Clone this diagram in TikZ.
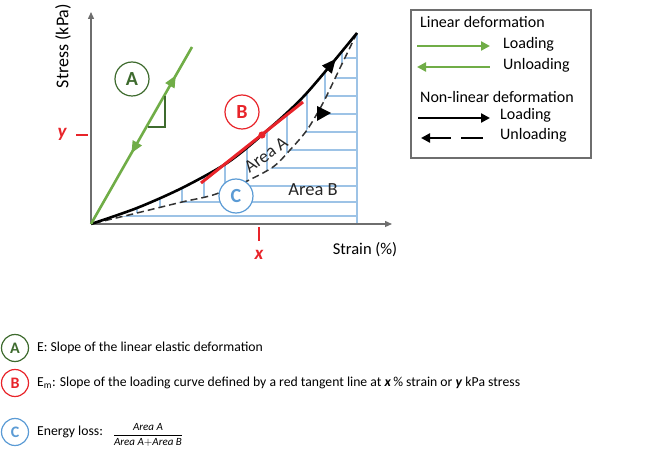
\documentclass[tikz,border=0pt]{standalone}
\usepackage{fontspec}
\setmainfont{Carlito}
\usetikzlibrary{arrows.meta,decorations.markings}
\definecolor{lgreen}{HTML}{70AD47}
\definecolor{dgreen}{HTML}{3E6B2E}
\definecolor{myred}{HTML}{E8242A}
\definecolor{myblue}{HTML}{5B9BD5}
\definecolor{hatchc}{HTML}{9DC3E6}
\definecolor{axisgray}{HTML}{6E6E6E}
\tikzset{
  hatchline/.style={hatchc, line width=1.1},
  axisline/.style={axisgray, line width=1.3, -{Triangle[length=7pt,width=6pt]}},
  bigcirc/.style={circle, draw, line width=1.2, fill=white, minimum size=34pt, inner sep=0pt, font=\fontsize{20}{24}\selectfont\bfseries},
  smallcirc/.style={circle, draw, line width=1.2, fill=white, minimum size=27pt, inner sep=0pt, font=\fontsize{16}{19}\selectfont\bfseries},
  legtext/.style={anchor=west, inner sep=0pt, font=\fontsize{16}{19}\selectfont},
  bottext/.style={anchor=west, inner sep=0pt, font=\fontsize{13.7}{16}\selectfont},
  legarrow/.style={line width=2.6, -{Triangle[length=9pt,width=9pt]}},
  legarrowrev/.style={line width=2.6, {Triangle[length=9pt,width=9pt]}-},
}
\begin{document}
\begin{tikzpicture}[x=1pt,y=-1pt]
\useasboundingbox (0,0) rectangle (649,457);

% hatching: horizontal lines right of unloading curve
\begin{scope}
\clip plot[smooth] coordinates {(91,224) (137,213) (182,202) (213,195) (245,182) (273,167) (290,150) (307,130) (323,103) (340,68) (357,33)} -- (357,224) -- cycle;
\foreach \yy in {58,78,96,114,132,150,168,186,202,216} \draw[hatchline] (91,\yy) -- (357,\yy);
\end{scope}
\draw[hatchline] (357,33) -- (357,224);
% hatching: vertical lines between curves
\begin{scope}
\clip plot[smooth] coordinates {(91,224) (137,208) (182,188) (227,163) (262,135) (305,95) (357,33)} -- plot[smooth] coordinates {(357,33) (340,68) (323,103) (307,130) (290,150) (273,167) (245,182) (213,195) (182,202) (137,213) (91,224)} -- cycle;
\foreach \xx in {137,160,182,204,225,247,267,287,307,325,342} \draw[hatchline] (\xx,20) -- (\xx,230);
\end{scope}

% axes
\coordinate (O) at (91,224);
\coordinate (ytop) at (91,12);
\coordinate (xend) at (392,224);
\draw[axisline] (O) -- (ytop);
\draw[axisline] (O) -- (xend);
\node[rotate=90, font=\fontsize{18}{21}\selectfont, inner sep=0pt] (ylab) at (63,46) {Stress (kPa)};
\node[font=\fontsize{16.5}{19}\selectfont, inner sep=0pt] (xlab) at (365,250) {Strain (\%)};

% unloading (dashed) curve
\draw[black!80, line width=1.5, dash pattern=on 7pt off 4pt] plot[smooth] coordinates {(357,33) (340,68) (323,103) (307,130) (290,150) (273,167) (245,182) (213,195) (182,202) (137,213) (91,224)};
\fill[black] (317,106) -- (317,121) -- (331,113) -- cycle;

% loading curve
\draw[black, line width=2.6, postaction={decorate}, decoration={markings, mark=at position 0.9 with {\arrow{Triangle[length=14pt,width=12pt]}}}] plot[smooth] coordinates {(91,224) (137,208) (182,188) (227,163) (262,135) (305,95) (357,33)};

% linear (green) line
\coordinate (gtop) at (192,47);
\draw[lgreen, line width=2.6, postaction={decorate}, decoration={markings,
  mark=at position 0.84 with {\arrow{Triangle[length=12pt,width=10pt]}},
  mark=at position 0.40 with {\arrowreversed{Triangle[length=12pt,width=10pt]}}}] (O) -- (gtop);
\draw[dgreen, line width=1.8] (165,96) -- (165,127) -- (148,127);

% tangent
\coordinate (t1) at (201,183);
\coordinate (t2) at (303,102);
\draw[myred, line width=3] (t1) -- (t2);
\fill[myred] (262,135) circle (3.6);

% ticks
\coordinate (yt1) at (76,135); \coordinate (yt2) at (88,135);
\coordinate (xt1) at (259,227); \coordinate (xt2) at (259,241);
\draw[myred, line width=2.8] (yt1) -- (yt2);
\draw[myred, line width=2.8] (xt1) -- (xt2);
\node[myred, font=\fontsize{19}{22}\selectfont\bfseries\itshape, inner sep=0pt] (ylet) at (62,134) {y};
\node[myred, font=\fontsize{19}{22}\selectfont\bfseries\itshape, inner sep=0pt] (xlet) at (259,255) {x};

% circles and area labels
\node[bigcirc, draw=dgreen, text=dgreen] (cA) at (132,79) {A};
\node[bigcirc, draw=myred, text=myred] (cB) at (242,112) {B};
\node[bigcirc, draw=myblue, text=myblue] (cC) at (236,196) {C};
\node[rotate=36, font=\fontsize{18}{21}\selectfont, text=black!85, inner sep=0pt] (areaA) at (266,155) {Area A};
\node[font=\fontsize{18.5}{21}\selectfont, text=black!85, inner sep=0pt] (areaB) at (313,190) {Area B};

% legend
\draw[axisgray, line width=1.2] (411,10) rectangle (591,158);
\node[legtext] (l1) at (420,22) {Linear deformation};
\coordinate (ga1) at (417,46); \coordinate (ga2) at (490,46);
\coordinate (gb1) at (417,67); \coordinate (gb2) at (490,67);
\draw[legarrow, lgreen] (ga1) -- (ga2);
\draw[legarrowrev, lgreen] (gb1) -- (gb2);
\node[legtext] (l2) at (503,44) {Loading};
\node[legtext] (l3) at (503,65) {Unloading};
\node[legtext] (l4) at (420,97) {Non-linear deformation};
\coordinate (ba1) at (418,118); \coordinate (ba2) at (490,118);
\draw[legarrow, black] (ba1) -- (ba2);
\coordinate (da1) at (421,138); \coordinate (da2) at (451,138);
\coordinate (da3) at (461,138); \coordinate (da4) at (483,138);
\draw[legarrowrev, black] (da1) -- (da2);
\draw[black, line width=2.6] (da3) -- (da4);
\node[legtext] (l5) at (500,115) {Loading};
\node[legtext] (l6) at (500,135) {Unloading};

% bottom explanation
\node[smallcirc, draw=dgreen, text=dgreen] (bA) at (15,348) {A};
\node[smallcirc, draw=myred, text=myred] (bB) at (15,383) {B};
\node[smallcirc, draw=myblue, text=myblue] (bC) at (15,432) {C};
\node[bottext] (tA) at (37,348) {E: Slope of the linear elastic deformation};
\node[bottext] (tB) at (37,383) {E\textsubscript{m}: Slope of the loading curve defined by a red tangent line at \textbf{\textit{x}}\,\% strain or \textbf{\textit{y}} kPa stress};
\node[bottext] (tC) at (37,432) {Energy loss:};
\node[inner sep=0pt, font=\fontsize{11}{13}\selectfont] (frac) at (148,435) {$\displaystyle\frac{\mathit{Area\ A}}{\mathit{Area\ A}{+}\mathit{Area\ B}}$};
\end{tikzpicture}
\end{document}
